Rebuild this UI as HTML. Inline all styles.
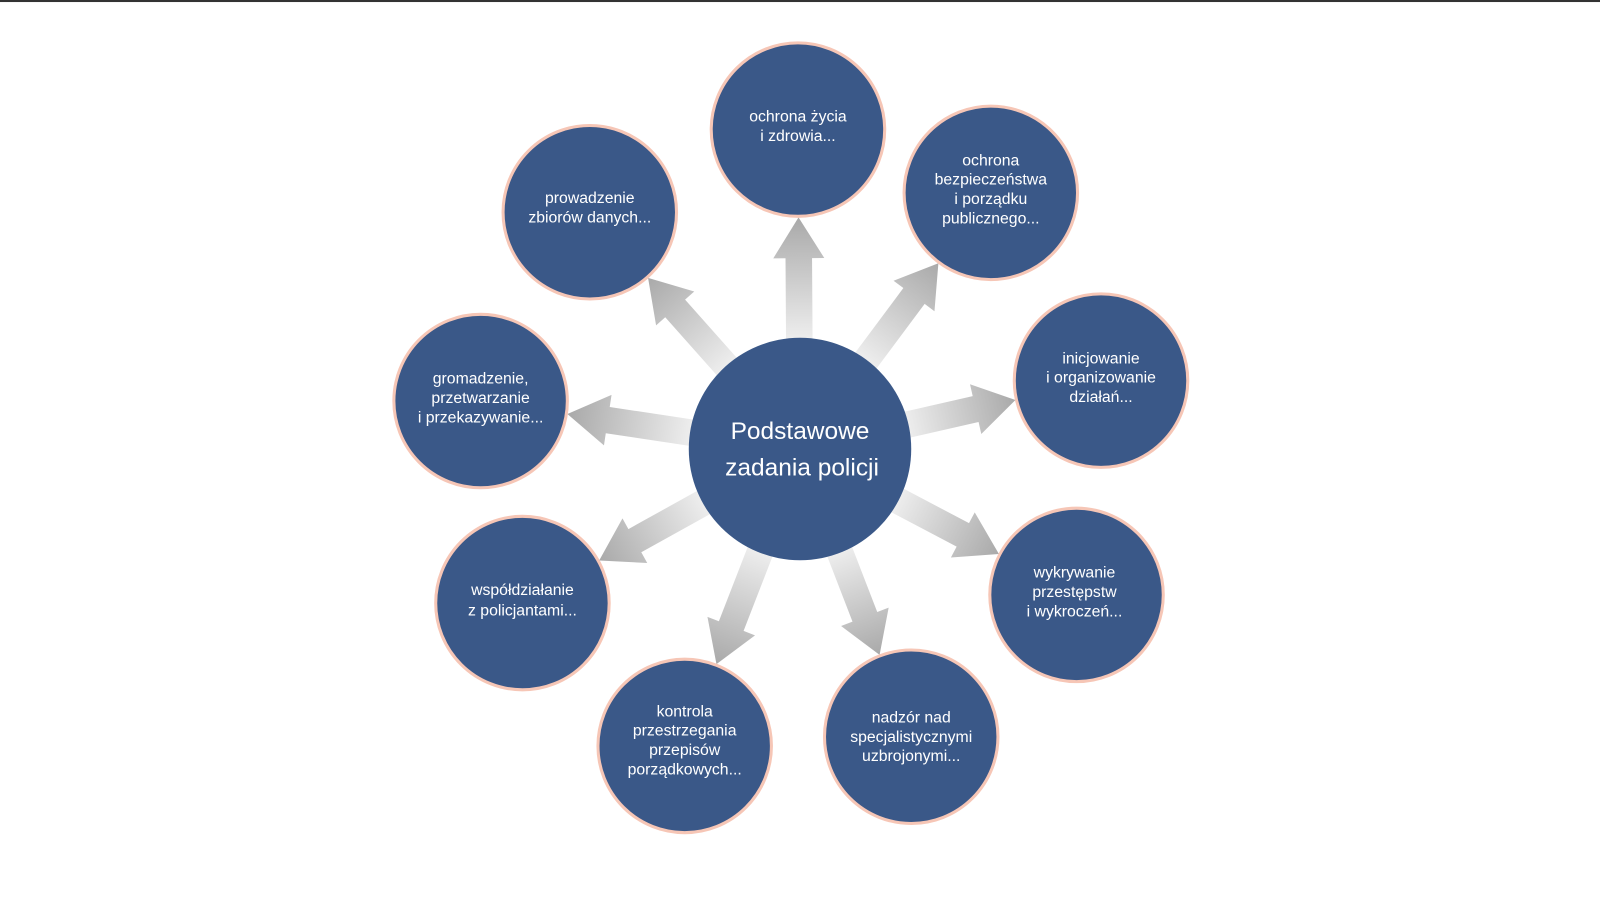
<!DOCTYPE html>
<html><head><meta charset="utf-8"><style>
html,body{margin:0;padding:0;background:#fff;}
svg{display:block}
text{font-family:"Liberation Sans",sans-serif;fill:#fff;}
</style></head><body>
<svg id="s" width="1600" height="899" viewBox="0 0 1568 881" preserveAspectRatio="none" xmlns="http://www.w3.org/2000/svg">
<rect x="0" y="0" width="1568" height="2" fill="#333"/>
<defs>
<linearGradient id="g" x1="0" y1="0" x2="1" y2="0">
<stop offset="0" stop-color="#f2f2f2"/><stop offset="1" stop-color="#a9a9a9"/>
</linearGradient>
</defs>
<g id="arrows"></g>
<g fill="#3a5888" stroke="#f6c6b6" stroke-width="3">
<circle cx="784" cy="440" r="109" stroke="none"/>
<circle cx="782" cy="127" r="85"/>
<circle cx="971" cy="189" r="85"/>
<circle cx="1079" cy="373" r="85"/>
<circle cx="1055" cy="583" r="85"/>
<circle cx="893" cy="722" r="85"/>
<circle cx="671" cy="731" r="85"/>
<circle cx="512" cy="591" r="85"/>
<circle cx="471" cy="393" r="85"/>
<circle cx="578" cy="208" r="85"/>
</g>
<g font-size="15.5" text-anchor="middle">
<text x="784" y="430" font-size="24">Podstawowe</text>
<text x="786" y="466" font-size="24">zadania policji</text>
<text x="782" y="119">ochrona życia</text><text x="782" y="138">i zdrowia...</text>
<text x="971" y="162">ochrona</text><text x="971" y="181">bezpieczeństwa</text><text x="971" y="200">i porządku</text><text x="971" y="219">publicznego...</text>
<text x="1079" y="356">inicjowanie</text><text x="1079" y="375">i organizowanie</text><text x="1079" y="394">działań...</text>
<text x="1053" y="566">wykrywanie</text><text x="1053" y="585">przestępstw</text><text x="1053" y="604">i wykroczeń...</text>
<text x="893" y="708">nadzór nad</text><text x="893" y="727">specjalistycznymi</text><text x="893" y="746">uzbrojonymi...</text>
<text x="671" y="702">kontrola</text><text x="671" y="721">przestrzegania</text><text x="671" y="740">przepisów</text><text x="671" y="759">porządkowych...</text>
<text x="512" y="583">współdziałanie</text><text x="512" y="603">z policjantami...</text>
<text x="471" y="376">gromadzenie,</text><text x="471" y="395">przetwarzanie</text><text x="471" y="414">i przekazywanie...</text>
<text x="578" y="199">prowadzenie</text><text x="578" y="218">zbiorów danych...</text>
</g>
</svg>
<script>
var cx=784,cy=440,pts=[[782,127],[971,189],[1079,373],[1055,583],[893,722],[671,731],[512,591],[471,393],[578,208]];
var g=document.getElementById('arrows'),h='';
pts.forEach(function(p){var dx=p[0]-cx,dy=p[1]-cy,d=Math.sqrt(dx*dx+dy*dy),a=Math.atan2(dy,dx)*180/Math.PI;
var s=100,e=d-86,hl=40,sw=13,hw=25;
h+='<g transform="translate('+cx+','+cy+') rotate('+a+')"><polygon fill="url(#g'+')" points="'+s+','+(-sw)+' '+(e-hl)+','+(-sw)+' '+(e-hl)+','+(-hw)+' '+e+',0 '+(e-hl)+','+hw+' '+(e-hl)+','+sw+' '+s+','+sw+'"/></g>';});
g.innerHTML=h;
</script>
</body></html>
